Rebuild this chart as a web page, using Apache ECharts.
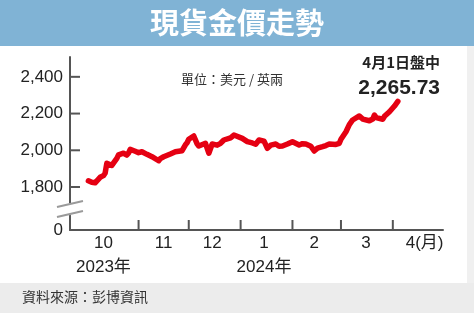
<!DOCTYPE html>
<html><head><meta charset="utf-8">
<script src="https://cdn.jsdelivr.net/npm/echarts@6/dist/echarts.min.js"></script>
<style>html,body{margin:0;padding:0;background:#fff}#c{width:474px;height:313px}</style>
</head><body><div id="c"></div>
<script>
// ---- data ----
const dates = [
 '2023-10-02','2023-10-04','2023-10-06','2023-10-09','2023-10-11','2023-10-12','2023-10-13','2023-10-16','2023-10-17','2023-10-19',
 '2023-10-20','2023-10-23','2023-10-25','2023-10-26','2023-10-27','2023-10-30','2023-11-01','2023-11-03','2023-11-06','2023-11-09',
 '2023-11-13','2023-11-14','2023-11-16','2023-11-20','2023-11-23','2023-11-27','2023-11-29','2023-11-30','2023-12-01','2023-12-04',
 '2023-12-06','2023-12-07','2023-12-11','2023-12-13','2023-12-15','2023-12-18','2023-12-20','2023-12-22','2023-12-26','2023-12-28',
 '2024-01-02','2024-01-05','2024-01-08','2024-01-10','2024-01-12','2024-01-15','2024-01-17','2024-01-19','2024-01-22','2024-01-24',
 '2024-01-26','2024-01-29','2024-02-01','2024-02-05','2024-02-07','2024-02-09','2024-02-12','2024-02-14','2024-02-16','2024-02-19',
 '2024-02-21','2024-02-23','2024-02-27','2024-02-29','2024-03-01','2024-03-04','2024-03-06','2024-03-08','2024-03-12','2024-03-14',
 '2024-03-15','2024-03-18','2024-03-20','2024-03-21','2024-03-22','2024-03-26','2024-03-27','2024-03-30','2024-04-02','2024-04-04'
];
const prices = [
 1834,1826,1823,1853,1862,1875,1929,1918,1920,1956,
 1975,1984,1974,1985,2005,1995,1987,1992,1978,1965,
 1943,1955,1965,1980,1992,1998,2030,2041,2060,2078,
 2035,2023,2038,1984,2034,2028,2038,2056,2068,2083,
 2065,2047,2040,2033,2056,2050,2011,2028,2034,2022,
 2023,2034,2047,2029,2036,2034,2022,1996,2012,2020,
 2026,2034,2032,2038,2060,2101,2140,2165,2187,2170,
 2165,2161,2170,2192,2178,2169,2185,2210,2241,2265.73
];
const yTickValues = [1800, 2000, 2200, 2400];
const yLabelValues = [1566, 1800, 2000, 2200, 2400];
const yLabelTexts = ['0', '1,800', '2,000', '2,200', '2,400'];
const monthStarts = ['2023-11-01','2023-12-01','2024-01-01','2024-02-01','2024-03-01','2024-04-01'];
const xLabelDates = ['2023-10-11','2023-11-16','2023-12-15','2024-01-15','2024-02-14','2024-03-16','2024-04-20'];
const xLabelTexts = ['10\n2023年','11','12','1\n2024年','2','3','4(月)'];
const titleText = '現貨金價走勢';
const unitText = '單位：美元 / 英兩';
const noteDate = '4月1日盤中';
const noteValue = '2,265.73';
const sourceText = '資料來源：彭博資訊';

// ---- helpers ----
const toTs = s => { const p = s.split('-').map(Number); return Date.UTC(p[0], p[1]-1, p[2]); };
const X_MIN = toTs('2023-09-21'), X_MAX = toTs('2024-05-01');
const Y_MIN = 1566, Y_MAX = 2508;
const seriesData = dates.map((d, i) => [toTs(d), prices[i]]);
const xLabelMap = {}; xLabelDates.forEach((d, i) => { xLabelMap[toTs(d)] = xLabelTexts[i]; });
const yLabelMap = {}; yLabelValues.forEach((v, i) => { yLabelMap[v] = yLabelTexts[i]; });

const FONT = '"Liberation Sans", Arial, "Noto Sans CJK TC", sans-serif';
const CJK = '"Noto Sans CJK TC", "Liberation Sans", sans-serif';
const AXIS_COLOR = '#555555';
const TICK_LEN = 10;

const chart = echarts.init(document.getElementById('c'), null, {renderer: 'canvas'});
chart.setOption({
  animation: false,
  backgroundColor: '#fff',
  grid: {left: 70, right: 31, top: 57, bottom: 83},
  xAxis: {
    type: 'value', min: X_MIN, max: X_MAX,
    axisLine: {show: true, lineStyle: {color: AXIS_COLOR, width: 2}},
    axisTick: {show: false},
    axisLabel: {
      customValues: xLabelDates.map(toTs),
      formatter: v => xLabelMap[v] || '',
      color: '#222', fontSize: 17, fontFamily: FONT, lineHeight: 24, margin: 1
    },
    splitLine: {show: false}
  },
  yAxis: {
    type: 'value', min: Y_MIN, max: Y_MAX,
    axisLine: {show: true, lineStyle: {color: AXIS_COLOR, width: 2}},
    axisTick: {show: false},
    axisLabel: {
      customValues: yLabelValues,
      formatter: v => yLabelMap[v] !== undefined ? yLabelMap[v] : '',
      color: '#222', fontSize: 17, fontFamily: FONT, margin: 7
    },
    splitLine: {show: false}
  },
  series: [{
    type: 'line',
    data: seriesData,
    showSymbol: false,
    smooth: false,
    lineStyle: {color: '#e50012', width: 5.5, cap: 'round', join: 'round'},
    z: 3
  }]
});

// decorations positioned through the axis scales
const axX = chart.convertToPixel({xAxisIndex: 0}, X_MIN);
const axY = chart.convertToPixel({yAxisIndex: 0}, Y_MIN);
const yb = chart.convertToPixel({yAxisIndex: 0}, 1680);
const tickEls = [];
monthStarts.forEach(d => {
  const px = chart.convertToPixel({xAxisIndex: 0}, toTs(d));
  tickEls.push({type: 'line', shape: {x1: px, y1: axY, x2: px, y2: axY - TICK_LEN}, style: {stroke: AXIS_COLOR, lineWidth: 2}, z: 12});
});
yTickValues.forEach(v => {
  const py = chart.convertToPixel({yAxisIndex: 0}, v);
  tickEls.push({type: 'line', shape: {x1: axX, y1: py, x2: axX + TICK_LEN, y2: py}, style: {stroke: AXIS_COLOR, lineWidth: 2}, z: 12});
});
chart.setOption({
  graphic: [
    {type: 'rect', shape: {x: 0, y: 0, width: 474, height: 46}, style: {fill: '#80b3d5'}, z: 10},
    {type: 'text', x: 237, y: 23, style: {text: titleText, fill: '#fff', font: 'bold 29px ' + CJK, align: 'center', verticalAlign: 'middle'}, z: 11},
    {type: 'rect', shape: {x: 467, y: 46, width: 7, height: 237}, style: {fill: '#f0f0f0'}, z: 10},
    {type: 'rect', shape: {x: 0, y: 283, width: 474, height: 30}, style: {fill: '#ececec'}, z: 10},
    {type: 'text', x: 22, y: 297, style: {text: sourceText, fill: '#333', font: '14px ' + CJK, align: 'left', verticalAlign: 'middle'}, z: 11},
    {type: 'text', x: 181, y: 79, style: {text: unitText, fill: '#333', font: '13px ' + CJK, align: 'left', verticalAlign: 'middle'}, z: 11},
    {type: 'text', x: 440, y: 62, style: {text: noteDate, fill: '#222', font: 'bold 15px ' + CJK, align: 'right', verticalAlign: 'middle'}, z: 11},
    {type: 'text', x: 440, y: 88, style: {text: noteValue, fill: '#222', font: 'bold 21px ' + FONT, align: 'right', verticalAlign: 'middle'}, z: 11},
    {type: 'rect', shape: {x: axX - 5, y: yb - 6, width: 10, height: 12}, style: {fill: '#fff'}, z: 10},
    {type: 'line', shape: {x1: axX - 13, y1: yb - 2, x2: axX + 13, y2: yb - 8}, style: {stroke: '#9a9a9a', lineWidth: 2}, z: 11},
    {type: 'line', shape: {x1: axX - 13, y1: yb + 8, x2: axX + 13, y2: yb + 2}, style: {stroke: '#9a9a9a', lineWidth: 2}, z: 11}
  ].concat(tickEls)
});
</script>
</body></html>
